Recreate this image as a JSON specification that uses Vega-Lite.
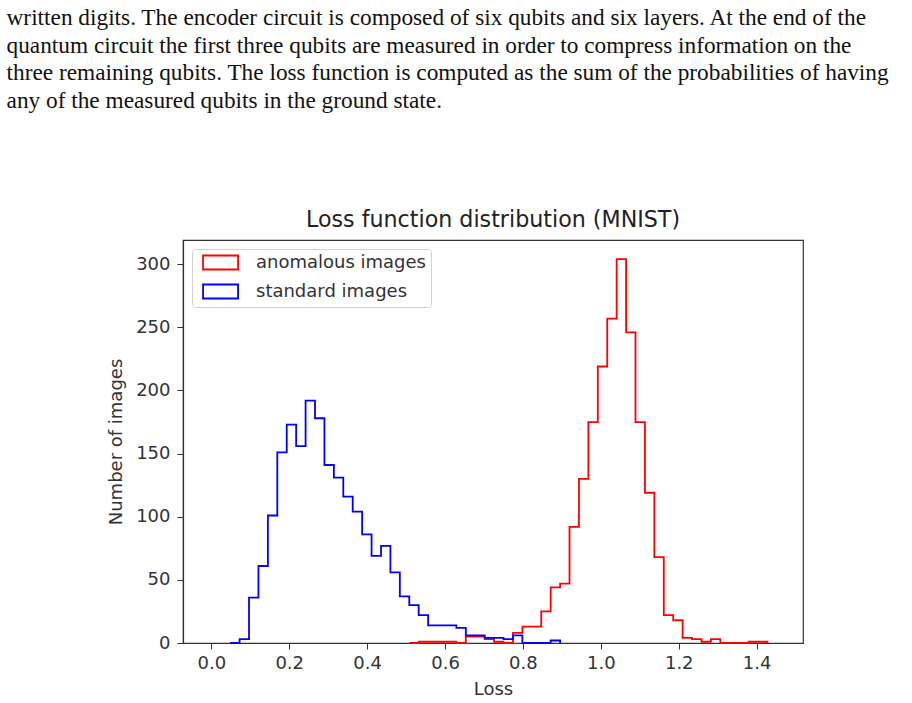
{
  "$schema": "https://vega.github.io/schema/vega-lite/v6.json",
  "background": "white",
  "padding": {"left": 6, "top": 6, "right": 5, "bottom": 5},
  "title": {
    "text": [
      "written digits. The encoder circuit is composed of six qubits and six layers. At the end of the",
      "quantum circuit the first three qubits are measured in order to compress information on the",
      "three remaining qubits. The loss function is computed as the sum of the probabilities of having",
      "any of the measured qubits in the ground state."
    ],
    "anchor": "start",
    "frame": "bounds",
    "font": "Liberation Serif",
    "fontSize": 23.3,
    "fontWeight": "normal",
    "color": "#111",
    "lineHeight": 27.5,
    "dx": -100.5,
    "offset": 95
  },
  "vconcat": [
    {
      "width": 620,
      "height": 403,
      "title": {
        "text": "Loss function distribution (MNIST)",
        "font": "DejaVu Sans",
        "fontSize": 22.2,
        "fontWeight": "normal",
        "color": "#222",
        "offset": 9
      },
      "data": {
        "values": [
          {"series": "anomalous images", "loss": 0.5082, "count": 0},
          {"series": "anomalous images", "loss": 0.5324, "count": 1},
          {"series": "anomalous images", "loss": 0.5566, "count": 1},
          {"series": "anomalous images", "loss": 0.5808, "count": 1},
          {"series": "anomalous images", "loss": 0.6050, "count": 1},
          {"series": "anomalous images", "loss": 0.6292, "count": 0},
          {"series": "anomalous images", "loss": 0.6534, "count": 5},
          {"series": "anomalous images", "loss": 0.6776, "count": 5},
          {"series": "anomalous images", "loss": 0.7018, "count": 3},
          {"series": "anomalous images", "loss": 0.7260, "count": 1},
          {"series": "anomalous images", "loss": 0.7502, "count": 0},
          {"series": "anomalous images", "loss": 0.7744, "count": 8},
          {"series": "anomalous images", "loss": 0.7986, "count": 13},
          {"series": "anomalous images", "loss": 0.8228, "count": 13},
          {"series": "anomalous images", "loss": 0.8470, "count": 25},
          {"series": "anomalous images", "loss": 0.8712, "count": 44},
          {"series": "anomalous images", "loss": 0.8954, "count": 47},
          {"series": "anomalous images", "loss": 0.9196, "count": 92},
          {"series": "anomalous images", "loss": 0.9438, "count": 130},
          {"series": "anomalous images", "loss": 0.9680, "count": 175},
          {"series": "anomalous images", "loss": 0.9922, "count": 219},
          {"series": "anomalous images", "loss": 1.0164, "count": 257},
          {"series": "anomalous images", "loss": 1.0406, "count": 304},
          {"series": "anomalous images", "loss": 1.0648, "count": 246},
          {"series": "anomalous images", "loss": 1.0890, "count": 175},
          {"series": "anomalous images", "loss": 1.1132, "count": 119},
          {"series": "anomalous images", "loss": 1.1374, "count": 68},
          {"series": "anomalous images", "loss": 1.1616, "count": 22},
          {"series": "anomalous images", "loss": 1.1858, "count": 18},
          {"series": "anomalous images", "loss": 1.2100, "count": 4},
          {"series": "anomalous images", "loss": 1.2342, "count": 3},
          {"series": "anomalous images", "loss": 1.2584, "count": 1},
          {"series": "anomalous images", "loss": 1.2826, "count": 3},
          {"series": "anomalous images", "loss": 1.3068, "count": 0},
          {"series": "anomalous images", "loss": 1.3310, "count": 0},
          {"series": "anomalous images", "loss": 1.3552, "count": 0},
          {"series": "anomalous images", "loss": 1.3794, "count": 1},
          {"series": "anomalous images", "loss": 1.4036, "count": 1},
          {"series": "anomalous images", "loss": 1.4278, "count": 0},
          {"series": "standard images", "loss": 0.0484, "count": 0},
          {"series": "standard images", "loss": 0.0726, "count": 3},
          {"series": "standard images", "loss": 0.0968, "count": 36},
          {"series": "standard images", "loss": 0.1210, "count": 61},
          {"series": "standard images", "loss": 0.1452, "count": 101},
          {"series": "standard images", "loss": 0.1694, "count": 151},
          {"series": "standard images", "loss": 0.1936, "count": 173},
          {"series": "standard images", "loss": 0.2178, "count": 156},
          {"series": "standard images", "loss": 0.2420, "count": 192},
          {"series": "standard images", "loss": 0.2662, "count": 178},
          {"series": "standard images", "loss": 0.2904, "count": 141},
          {"series": "standard images", "loss": 0.3146, "count": 131},
          {"series": "standard images", "loss": 0.3388, "count": 116},
          {"series": "standard images", "loss": 0.3630, "count": 104},
          {"series": "standard images", "loss": 0.3872, "count": 86},
          {"series": "standard images", "loss": 0.4114, "count": 69},
          {"series": "standard images", "loss": 0.4356, "count": 77},
          {"series": "standard images", "loss": 0.4598, "count": 56},
          {"series": "standard images", "loss": 0.4840, "count": 37},
          {"series": "standard images", "loss": 0.5082, "count": 30},
          {"series": "standard images", "loss": 0.5324, "count": 22},
          {"series": "standard images", "loss": 0.5566, "count": 14},
          {"series": "standard images", "loss": 0.5808, "count": 14},
          {"series": "standard images", "loss": 0.6050, "count": 14},
          {"series": "standard images", "loss": 0.6292, "count": 12},
          {"series": "standard images", "loss": 0.6534, "count": 6},
          {"series": "standard images", "loss": 0.6776, "count": 6},
          {"series": "standard images", "loss": 0.7018, "count": 4},
          {"series": "standard images", "loss": 0.7260, "count": 4},
          {"series": "standard images", "loss": 0.7502, "count": 3},
          {"series": "standard images", "loss": 0.7744, "count": 6},
          {"series": "standard images", "loss": 0.7986, "count": 0},
          {"series": "standard images", "loss": 0.8228, "count": 0},
          {"series": "standard images", "loss": 0.8470, "count": 0},
          {"series": "standard images", "loss": 0.8712, "count": 2},
          {"series": "standard images", "loss": 0.8954, "count": 0}
        ]
      },
      "mark": {"type": "line", "interpolate": "step-after", "strokeWidth": 1.8},
      "encoding": {
        "x": {
          "field": "loss",
          "type": "quantitative",
          "scale": {"domain": [-0.0727, 1.519], "nice": false, "zero": false},
          "axis": {"values": [0, 0.2, 0.4, 0.6, 0.8, 1.0, 1.2, 1.4], "format": ".1f", "title": "Loss", "labelPadding": 5, "titlePadding": 8}
        },
        "y": {
          "field": "count",
          "type": "quantitative",
          "scale": {"domain": [0, 319.2], "nice": false},
          "axis": {"values": [0, 50, 100, 150, 200, 250, 300], "title": "Number of images", "labelPadding": 7, "titlePadding": 10}
        },
        "color": {
          "field": "series",
          "type": "nominal",
          "scale": {"domain": ["anomalous images", "standard images"], "range": ["#ff0000", "#0000ff"]},
          "legend": {
            "title": null,
            "orient": "top-left",
            "offset": 9,
            "symbolType": "M-0.35,-1H4.65V1H-0.35Z",
            "symbolSize": 196,
            "symbolStrokeWidth": 1.8,
            "labelFont": "DejaVu Sans",
            "labelFontSize": 18,
            "labelColor": "#333",
            "labelOffset": 41.5,
            "labelLimit": 400,
            "strokeColor": "#d0d0d0",
            "fillColor": "white",
            "cornerRadius": 3,
            "padding": 4.5,
            "rowPadding": 7
          }
        }
      }
    }
  ],
  "config": {
    "view": {"stroke": "#333", "strokeWidth": 1.2},
    "axis": {
      "grid": false,
      "domainColor": "#333",
      "domainWidth": 1.2,
      "tickColor": "#333",
      "tickSize": 6,
      "labelFont": "DejaVu Sans",
      "labelFontSize": 18,
      "labelColor": "#333",
      "titleFont": "DejaVu Sans",
      "titleFontSize": 18,
      "titleFontWeight": "normal",
      "titleColor": "#333",
      "zindex": 1
    }
  }
}
